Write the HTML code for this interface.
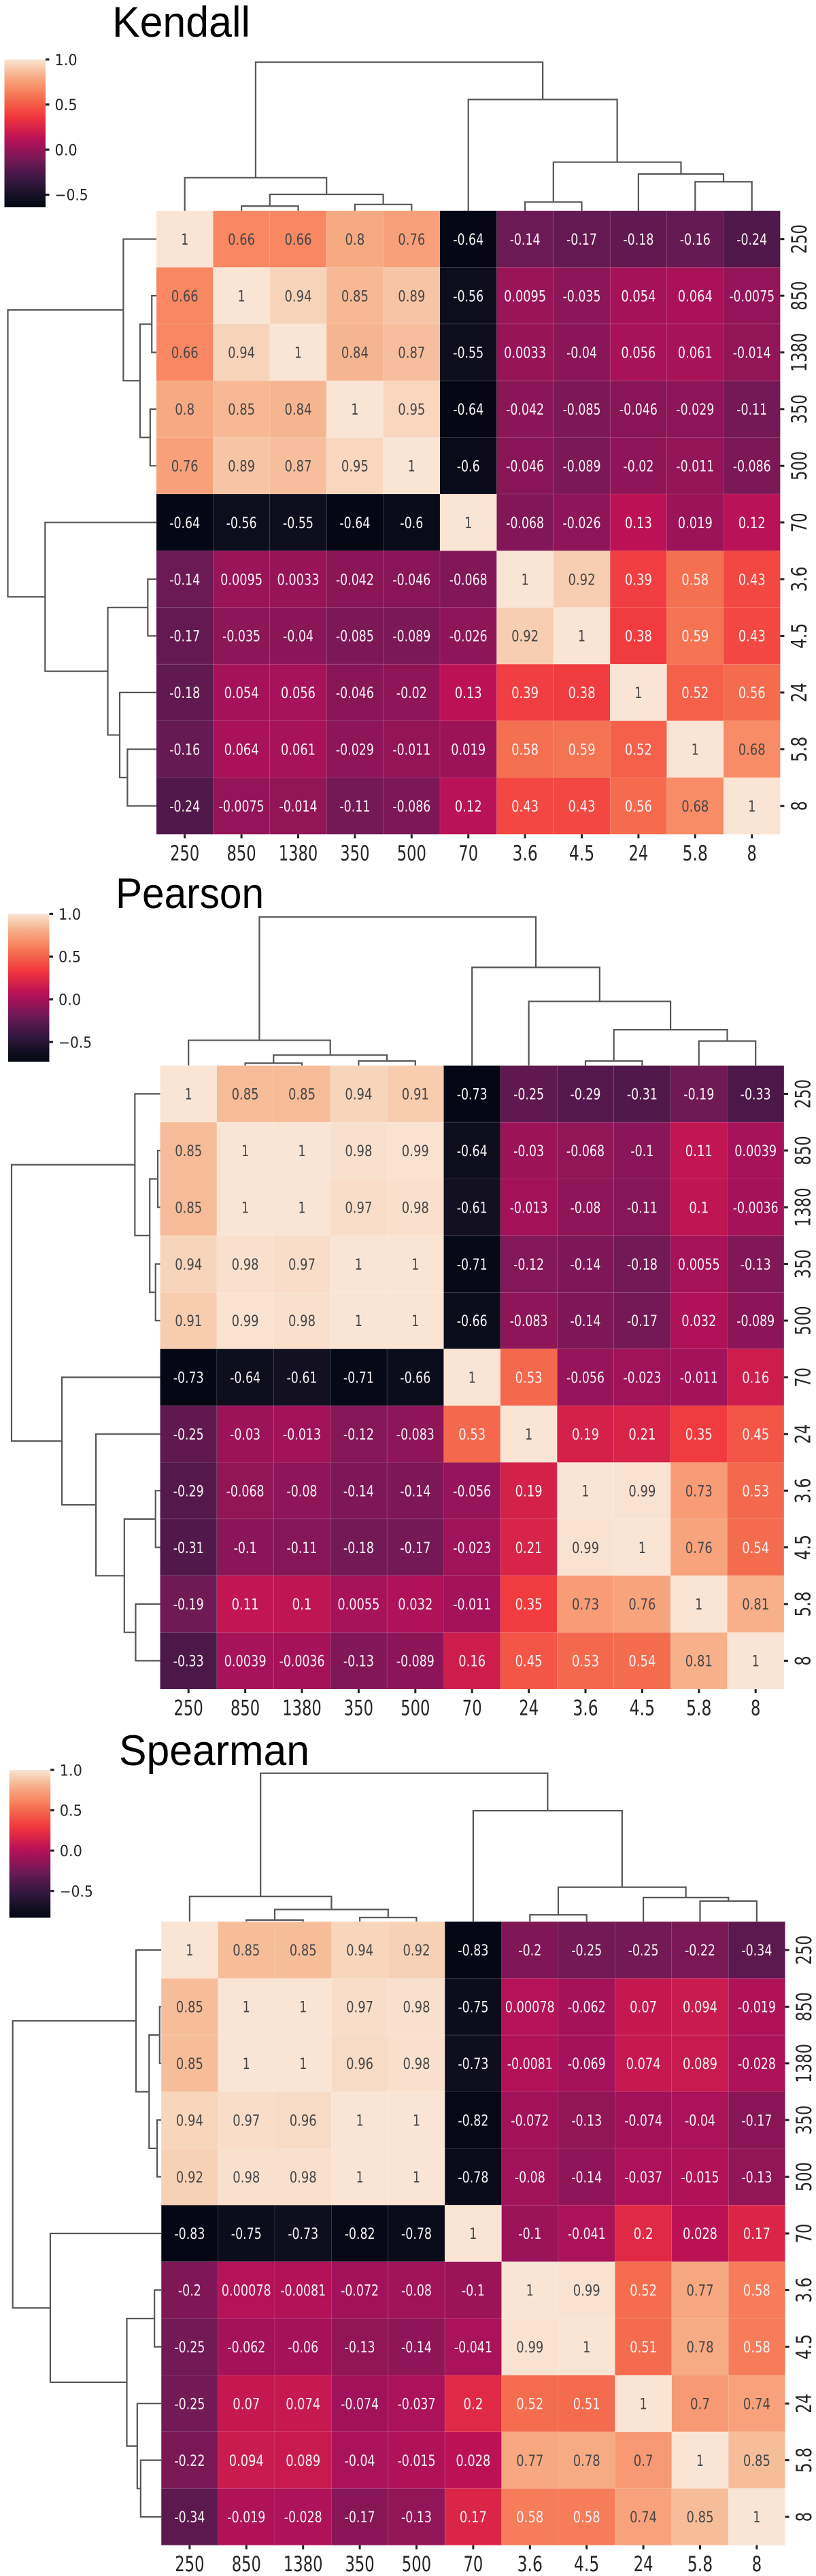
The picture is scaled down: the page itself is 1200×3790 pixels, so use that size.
<!DOCTYPE html>
<html lang="en">
<head>
<meta charset="utf-8">
<title>Kendall, Pearson and Spearman clustered correlation heatmaps</title>
<style>
  html, body { margin: 0; padding: 0; background: #fff; }
  body { width: 1200px; height: 3790px; overflow: hidden; }
  svg { display: block; }
  text { font-family: "DejaVu Sans", "Liberation Sans", sans-serif; }
  .title { font-family: "Liberation Sans", sans-serif; font-size: 63px; fill: #000; }
</style>
</head>
<body>
<svg id="figure" xmlns="http://www.w3.org/2000/svg" width="1200" height="3790" viewBox="0 0 1200 3790">
  <defs id="defs"></defs>
</svg>
<script>
/* ---------- chart data ---------- */
var kendallLabels = ['250','850','1380','350','500','70','3.6','4.5','24','5.8','8'];
var kendallValues = [
  [1,0.66,0.66,0.8,0.76,-0.64,-0.14,-0.17,-0.18,-0.16,-0.24],
  [0.66,1,0.94,0.85,0.89,-0.56,0.0095,-0.035,0.054,0.064,-0.0075],
  [0.66,0.94,1,0.84,0.87,-0.55,0.0033,-0.04,0.056,0.061,-0.014],
  [0.8,0.85,0.84,1,0.95,-0.64,-0.042,-0.085,-0.046,-0.029,-0.11],
  [0.76,0.89,0.87,0.95,1,-0.6,-0.046,-0.089,-0.02,-0.011,-0.086],
  [-0.64,-0.56,-0.55,-0.64,-0.6,1,-0.068,-0.026,0.13,0.019,0.12],
  [-0.14,0.0095,0.0033,-0.042,-0.046,-0.068,1,0.92,0.39,0.58,0.43],
  [-0.17,-0.035,-0.04,-0.085,-0.089,-0.026,0.92,1,0.38,0.59,0.43],
  [-0.18,0.054,0.056,-0.046,-0.02,0.13,0.39,0.38,1,0.52,0.56],
  [-0.16,0.064,0.061,-0.029,-0.011,0.019,0.58,0.59,0.52,1,0.68],
  [-0.24,-0.0075,-0.014,-0.11,-0.086,0.12,0.43,0.43,0.56,0.68,1]
];
/* linkage: [child, child, height]; ids 0-10 are leaves, 11+ are earlier merges */
var kendallLinkage = [
  [1,2,0.031],[3,4,0.042],[11,12,0.11],[0,13,0.2225],
  [6,7,0.058],[9,10,0.195],[8,16,0.247],[15,17,0.327],
  [5,18,0.749],[14,19,1.0]
];

var pearsonLabels = ['250','850','1380','350','500','70','24','3.6','4.5','5.8','8'];
var pearsonValues = [
  [1,0.85,0.85,0.94,0.91,-0.73,-0.25,-0.29,-0.31,-0.19,-0.33],
  [0.85,1,1,0.98,0.99,-0.64,-0.03,-0.068,-0.1,0.11,0.0039],
  [0.85,1,1,0.97,0.98,-0.61,-0.013,-0.08,-0.11,0.1,-0.0036],
  [0.94,0.98,0.97,1,1,-0.71,-0.12,-0.14,-0.18,0.0055,-0.13],
  [0.91,0.99,0.98,1,1,-0.66,-0.083,-0.14,-0.17,0.032,-0.089],
  [-0.73,-0.64,-0.61,-0.71,-0.66,1,0.53,-0.056,-0.023,-0.011,0.16],
  [-0.25,-0.03,-0.013,-0.12,-0.083,0.53,1,0.19,0.21,0.35,0.45],
  [-0.29,-0.068,-0.08,-0.14,-0.14,-0.056,0.19,1,0.99,0.73,0.53],
  [-0.31,-0.1,-0.11,-0.18,-0.17,-0.023,0.21,0.99,1,0.76,0.54],
  [-0.19,0.11,0.1,0.0055,0.032,-0.011,0.35,0.73,0.76,1,0.81],
  [-0.33,0.0039,-0.0036,-0.13,-0.089,0.16,0.45,0.53,0.54,0.81,1]
];
var pearsonLinkage = [
  [1,2,0.016],[3,4,0.031],[11,12,0.07],[0,13,0.17],
  [7,8,0.031],[9,10,0.165],[15,16,0.241],[6,17,0.432],
  [5,18,0.661],[14,19,1.0]
];

var spearmanLabels = ['250','850','1380','350','500','70','3.6','4.5','24','5.8','8'];
var spearmanValues = [
  [1,0.85,0.85,0.94,0.92,-0.83,-0.2,-0.25,-0.25,-0.22,-0.34],
  [0.85,1,1,0.97,0.98,-0.75,0.00078,-0.062,0.07,0.094,-0.019],
  [0.85,1,1,0.96,0.98,-0.73,-0.0081,-0.069,0.074,0.089,-0.028],
  [0.94,0.97,0.96,1,1,-0.82,-0.072,-0.13,-0.074,-0.04,-0.17],
  [0.92,0.98,0.98,1,1,-0.78,-0.08,-0.14,-0.037,-0.015,-0.13],
  [-0.83,-0.75,-0.73,-0.82,-0.78,1,-0.1,-0.041,0.2,0.028,0.17],
  [-0.2,0.00078,-0.0081,-0.072,-0.08,-0.1,1,0.99,0.52,0.77,0.58],
  [-0.25,-0.062,-0.06,-0.13,-0.14,-0.041,0.99,1,0.51,0.78,0.58],
  [-0.25,0.07,0.074,-0.074,-0.037,0.2,0.52,0.51,1,0.7,0.74],
  [-0.22,0.094,0.089,-0.04,-0.015,0.028,0.77,0.78,0.7,1,0.85],
  [-0.34,-0.019,-0.028,-0.17,-0.13,0.17,0.58,0.58,0.74,0.85,1]
];
var spearmanLinkage = [
  [1,2,0.011],[3,4,0.028],[11,12,0.082],[0,13,0.17],
  [6,7,0.046],[9,10,0.139],[8,16,0.162],[15,17,0.232],
  [5,18,0.747],[14,19,1.0]
];

var colorbarTicks = [1, 0.5, 0, -0.5];

/* ---------- colormap (rocket, matched to the picture) ---------- */
var rocket = [
  [0,5,8,20],[0.06,15,15,30],[0.15,45,22,58],[0.244,80,24,75],[0.305,108,26,85],
  [0.42,165,18,90],[0.469,188,18,85],[0.6,238,50,62],[0.652,243,72,65],[0.744,244,112,80],
  [0.793,248,135,98],[0.878,247,170,130],[0.91,246,185,150],[0.963,247,212,185],[1,250,229,213]
];
function rocketColor(t) {
  t = Math.max(0, Math.min(1, t));
  for (var i = 1; i < rocket.length; i++) {
    if (t <= rocket[i][0]) {
      var a = rocket[i-1], b = rocket[i], f = (t - a[0]) / (b[0] - a[0]);
      return 'rgb(' + Math.round(a[1]+f*(b[1]-a[1])) + ',' + Math.round(a[2]+f*(b[2]-a[2])) + ',' + Math.round(a[3]+f*(b[3]-a[3])) + ')';
    }
  }
  return 'rgb(250,229,213)';
}

/* ---------- helpers ---------- */
var NS = 'http://www.w3.org/2000/svg';
var figure = document.getElementById('figure');
var defs = document.getElementById('defs');
function make(tag, parent, attrs, content) {
  var el = document.createElementNS(NS, tag);
  for (var k in attrs) el.setAttribute(k, attrs[k]);
  if (content !== undefined) el.textContent = content;
  parent.appendChild(el);
  return el;
}
function labelWidth(str, digit, dot, minus) {
  var w = 0;
  for (var i = 0; i < str.length; i++) {
    var c = str.charAt(i);
    w += (c === '.') ? dot : (c === '-' || c === '\u2212') ? minus : digit;
  }
  return w;
}

/* ---------- one clustermap panel ---------- */
function drawPanel(name, title, titleBox, labels, values, linkage, frame) {
  var n = labels.length;
  var CELL = 83.4;
  var DENDRO = 218.5;
  var BAR_W = 60.5;
  var BAR_H = 217.5;

  var vmax = 1;
  var vmin = Infinity;
  values.forEach(function (row) { row.forEach(function (v) { if (v < vmin) vmin = v; }); });

  function xCol(i) { return frame.left + CELL * i; }
  function yRow(i) { return frame.top + CELL * i; }
  function norm(v) { return (v - vmin) / (vmax - vmin); }
  function cbY(v) { return frame.barTop + (vmax - v) / (vmax - vmin) * BAR_H; }
  function topDist(h) { return frame.top - h * DENDRO; }
  function leftDist(h) { return frame.left - h * DENDRO; }

  var g = make('g', figure, {});
  
  

  /* title */
  var t = make('text', g, {
    'class': 'title', x: titleBox.x, y: titleBox.y,
    textLength: titleBox.w, lengthAdjust: 'spacingAndGlyphs'
  }, title);
  
  

  /* colorbar */
  var gradId = name + '-gradient';
  var grad = make('linearGradient', defs, { id: gradId, x1: 0, y1: 1, x2: 0, y2: 0 });
  for (var s = 0; s <= 40; s++) {
    make('stop', grad, { offset: s / 40, 'stop-color': rocketColor(s / 40) });
  }
  var cb = make('g', g, {});
  
  
  var barX = frame.left - 223.5;
  var bar = make('rect', cb, { x: barX, y: frame.barTop, width: BAR_W, height: BAR_H, fill: 'url(#' + gradId + ')' });
  
  
  colorbarTicks.forEach(function (v) {
    var yy = cbY(v);
    var tk = make('rect', cb, { x: barX + BAR_W, y: yy - 1.6, width: 5.5, height: 3.2, fill: '#222' });
    
    
    var str = (v < 0 ? '\u2212' : '') + Math.abs(v).toFixed(1);
    var lb = make('text', cb, {
      x: barX + BAR_W + 13.5, y: yy + 8.3, 'font-size': 22.5, fill: '#262626',
      textLength: labelWidth(str, 12.6, 8, 16), lengthAdjust: 'spacingAndGlyphs'
    }, str);
    
    
  });

  /* dendrograms */
  function drawDendro(side) {
    var dg = make('g', g, { fill: 'none', stroke: '#565656', 'stroke-width': 2.2, 'stroke-linejoin': 'miter' });
    
    
    var nodes = [];
    for (var i = 0; i < n; i++) nodes.push({ pos: i + 0.5, h: 0 });
    linkage.forEach(function (m) {
      var a = nodes[m[0]], b = nodes[m[1]], h = m[2], d;
      if (side === 'top') {
        d = 'M' + xCol(a.pos) + ' ' + topDist(a.h) + 'V' + topDist(h) + 'H' + xCol(b.pos) + 'V' + topDist(b.h);
      } else {
        d = 'M' + leftDist(a.h) + ' ' + yRow(a.pos) + 'H' + leftDist(h) + 'V' + yRow(b.pos) + 'H' + leftDist(b.h);
      }
      var p = make('path', dg, { d: d });
      
      
      nodes.push({ pos: (a.pos + b.pos) / 2, h: h });
    });
  }
  drawDendro('top');
  drawDendro('left');

  /* heatmap */
  var hm = make('g', g, {});
  
  
  values.forEach(function (row, r) {
    row.forEach(function (v, c) {
      var cell = make('rect', hm, {
        x: xCol(c), y: yRow(r), width: CELL, height: CELL,
        fill: rocketColor(norm(v)), stroke: 'rgba(255,255,255,0.1)', 'stroke-width': 0.8
      });
      
      
    });
  });
  values.forEach(function (row, r) {
    row.forEach(function (v, c) {
      var str = String(v);
      var ann = make('text', hm, {
        x: xCol(c) + CELL / 2, y: yRow(r) + CELL / 2 + 8.2, 'text-anchor': 'middle',
        'font-size': 22, fill: norm(v) > 0.78 ? '#474747' : '#f7f1f2',
        textLength: labelWidth(str, 11, 7, 5), lengthAdjust: 'spacingAndGlyphs'
      }, str);
      
      
    });
  });

  /* axes */
  var right = xCol(n), bottom = yRow(n);
  labels.forEach(function (lab, i) {
    var len = labelWidth(lab, 14.4, 8.5, 5);

    var xt = make('rect', g, { x: xCol(i + 0.5) - 1.5, y: bottom, width: 3, height: 6, fill: '#222' });
    
    
    var xl = make('text', g, {
      x: xCol(i + 0.5), y: bottom + 38.5, 'text-anchor': 'middle', 'font-size': 31, fill: '#262626',
      textLength: len, lengthAdjust: 'spacingAndGlyphs'
    }, lab);
    
    

    var yt = make('rect', g, { x: right, y: yRow(i + 0.5) - 1.5, width: 6, height: 3, fill: '#222' });
    
    
    var yl = make('text', g, {
      transform: 'translate(' + (right + 38.5) + ' ' + yRow(i + 0.5) + ') rotate(-90)',
      x: 0, y: 0, 'text-anchor': 'middle', 'font-size': 31, fill: '#262626',
      textLength: len, lengthAdjust: 'spacingAndGlyphs'
    }, lab);
    
    
  });
}

drawPanel('kendall', 'Kendall', { x: 165, y: 54, w: 203 },
  kendallLabels, kendallValues, kendallLinkage, { left: 230, top: 310, barTop: 87.5 });
drawPanel('pearson', 'Pearson', { x: 170, y: 1336, w: 218 },
  pearsonLabels, pearsonValues, pearsonLinkage, { left: 235.5, top: 1567.7, barTop: 1344.5 });
drawPanel('spearman', 'Spearman', { x: 175, y: 2597, w: 280 },
  spearmanLabels, spearmanValues, spearmanLinkage, { left: 237.2, top: 2827.3, barTop: 2604 });
</script>
</body>
</html>
